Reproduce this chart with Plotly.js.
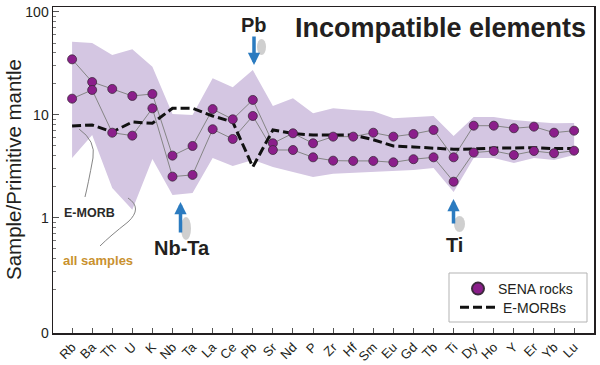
<!DOCTYPE html>
<html>
<head>
<meta charset="utf-8">
<script src="https://cdn.plot.ly/plotly-3.0.1.min.js"></script>
<style>html,body{margin:0;padding:0;background:#fff;}#chart{width:600px;height:365px;}</style>
</head>
<body>
<div id="chart"></div>
<script>
// ---- data ----
const elements = ['Rb','Ba','Th','U','K','Nb','Ta','La','Ce','Pb','Sr','Nd','P','Zr','Hf','Sm','Eu','Gd','Tb','Ti','Dy','Ho','Y','Er','Yb','Lu'];
const sampleA = [34.7,20.9,17.9,15.3,16.0,4.03,5.0,11.4,9.08,14.0,5.31,6.64,5.31,6.16,6.16,6.73,6.16,6.54,7.15,3.88,7.87,7.87,7.43,7.70,6.73,7.04];
const sampleB = [14.4,17.5,6.73,6.30,11.6,2.52,2.62,7.27,5.85,9.78,4.57,4.57,3.88,3.60,3.58,3.58,3.47,3.72,3.88,2.25,4.31,4.47,4.09,4.47,4.25,4.50];
const emorb   = [7.82,7.99,6.84,8.55,8.31,11.6,11.6,9.78,8.55,3.13,7.15,6.61,6.39,6.39,6.39,5.75,5.00,4.89,4.78,4.64,4.68,4.78,4.78,4.81,4.72,4.72];
const envUpper = [51.5,50.0,38.2,43.4,29.4,10.2,10.0,22.7,18.6,27.3,12.2,14.5,10.4,11.6,11.2,10.9,9.29,9.57,9.78,6.25,9.57,9.57,8.94,8.61,8.31,8.36];
const envLower = [3.82,6.39,1.95,1.20,3.74,1.67,1.75,3.82,3.20,3.66,3.13,2.80,2.50,2.68,2.74,2.80,2.86,2.92,3.06,1.79,3.82,3.82,3.42,3.82,3.66,4.09];
const yTickLabels = ['0','1','10','100'];

// ---- geometry helpers (pixel -> paper) ----
const L = 53, R = 594, T = 7, B = 333;
const px = x => (x - L) / (R - L);
const py = y => (B - y) / (B - T);
const yMin = -1.117, yMax = 2.0485;

const purple = '#8b1e8b';
const traces = [
  {x: elements, y: envLower, type:'scatter', mode:'lines', line:{width:0, color:'rgba(0,0,0,0)'}, showlegend:false, hoverinfo:'skip'},
  {x: elements, y: envUpper, type:'scatter', mode:'lines', line:{width:0, color:'rgba(0,0,0,0)'}, fill:'tonexty', fillcolor:'#d4c6e2', showlegend:false, hoverinfo:'skip'},
  {x: elements, y: sampleA, type:'scatter', mode:'lines', line:{width:1, color:'#858585'}, showlegend:false},
  {x: elements, y: sampleB, type:'scatter', mode:'lines', line:{width:1, color:'#858585'}, showlegend:false},
  {x: elements, y: emorb, type:'scatter', mode:'lines', name:'E-MORBs', line:{width:3, color:'#111', dash:'9px,4px'}, legend:'legend2'},
  {x: elements, y: sampleA, type:'scatter', mode:'markers', name:'SENA rocks', marker:{size:9, color:purple, line:{width:0.8, color:'#3c2a3c'}}, legend:'legend', legendrank:1},
  {x: elements, y: sampleB, type:'scatter', mode:'markers', name:'SENA rocks', marker:{size:9, color:purple, line:{width:0.8, color:'#3c2a3c'}}, showlegend:false}
];

const minorVals = [];
[0.1, 1, 10].forEach(d => { for (let k = 2; k <= 9; k++) minorVals.push(k * d); });

const arrowColor = '#2b7bc0';
const txt = (x, y, text, font, extra) => Object.assign({xref:'paper', yref:'paper', x:px(x), y:py(y), xanchor:'center', yanchor:'middle', text:text, font:font, showarrow:false}, extra || {});
const annotations = [
  txt(440, 28, '<b>Incompatible elements</b>', {size:27, color:'#231f20'}),
  txt(253.5, 25, '<b>Pb</b>', {size:20, color:'#231f20'}),
  txt(181.5, 248, '<b>Nb-Ta</b>', {size:20, color:'#231f20'}),
  txt(454, 245, '<b>Ti</b>', {size:20, color:'#231f20'}),
  txt(89, 213, '<b>E-MORB</b>', {size:12.5, color:'#2a2a2a'}),
  txt(97.5, 260, '<b>all samples</b>', {size:13, color:'#c9912f'}),
  txt(13, 170, 'Sample/Primitive mantle', {size:20.5, color:'#231f20'}, {textangle:-90}),
  // arrows
  {xref:'paper', yref:'paper', x:px(254), y:py(65), ax:0, ay:-30, text:'', showarrow:true, arrowhead:2, arrowsize:0.7, arrowwidth:3.5, arrowcolor:arrowColor},
  {xref:'paper', yref:'paper', x:px(180.5), y:py(202), ax:0, ay:32, text:'', showarrow:true, arrowhead:2, arrowsize:0.7, arrowwidth:3.5, arrowcolor:arrowColor},
  {xref:'paper', yref:'paper', x:px(453.5), y:py(199), ax:0, ay:26, text:'', showarrow:true, arrowhead:2, arrowsize:0.7, arrowwidth:3.5, arrowcolor:arrowColor}
];

const P = (x, y) => px(x).toFixed(4) + ',' + py(y).toFixed(4);
const shadow = 'rgba(140,140,140,0.42)';
const shapes = [
  // arrow shadows
  {type:'circle', xref:'paper', yref:'paper', x0:px(257), x1:px(266), y0:py(39), y1:py(55), fillcolor:shadow, line:{width:0}},
  {type:'circle', xref:'paper', yref:'paper', x0:px(181), x1:px(191), y0:py(217), y1:py(240), fillcolor:shadow, line:{width:0}},
  {type:'circle', xref:'paper', yref:'paper', x0:px(454), x1:px(465), y0:py(216), y1:py(232), fillcolor:shadow, line:{width:0}},
  // leader lines
  {type:'path', xref:'paper', yref:'paper', path:'M' + P(79,129) + ' Q' + P(96,141) + ' ' + P(93,158) + ' Q' + P(88,185) + ' ' + P(85,197), line:{color:'#777', width:0.9}},
  {type:'path', xref:'paper', yref:'paper', path:'M' + P(128,198) + ' Q' + P(143,208) + ' ' + P(128,222) + ' Q' + P(110,236) + ' ' + P(100,246), line:{color:'#777', width:0.9}},
  // legend box
  {type:'rect', xref:'paper', yref:'paper', x0:px(449), x1:px(587), y0:py(273), y1:py(322), fillcolor:'white', line:{color:'#b3b3b3', width:1}}
];

const layout = {
  width:600, height:365,
  margin:{l:L, r:600-R, t:T, b:365-B, pad:0},
  paper_bgcolor:'white', plot_bgcolor:'white',
  font:{family:'Liberation Sans, Arial, sans-serif', color:'#231f20'},
  xaxis:{type:'category', categoryorder:'array', categoryarray:elements, range:[-0.95, 25.99],
    showline:true, linecolor:'#231f20', linewidth:1.5, mirror:true,
    ticks:'inside', ticklen:5, tickwidth:1, tickcolor:'#555', tickangle:-45,
    tickfont:{size:13, color:'#231f20'}, showgrid:false, zeroline:false},
  yaxis:{type:'log', range:[yMin, yMax], tickmode:'array', tickvals:[Math.pow(10, yMin), 1, 10, 100], ticktext:yTickLabels,
    showline:true, linecolor:'#231f20', linewidth:1.5, mirror:true,
    ticks:'inside', ticklen:6, tickwidth:1, tickcolor:'#555', tickfont:{size:14, color:'#231f20'},
    minor:{tickmode:'array', tickvals:minorVals, ticks:'inside', ticklen:3, tickcolor:'#777', tickwidth:1, showgrid:false},
    showgrid:false, zeroline:false},
  showlegend:true,
  legend:{x:px(458), y:py(289), xanchor:'left', yanchor:'middle', itemsizing:'constant', bgcolor:'rgba(0,0,0,0)', borderwidth:0, font:{size:14, color:'#231f20'}},
  legend2:{x:px(455), y:py(307.7), xanchor:'left', yanchor:'middle', itemsizing:'trace', itemwidth:38, bgcolor:'rgba(0,0,0,0)', borderwidth:0, font:{size:14, color:'#231f20'}},
  annotations:annotations,
  shapes:shapes
};

Plotly.newPlot('chart', traces, layout, {displayModeBar:false, staticPlot:true});
</script>
</body>
</html>
